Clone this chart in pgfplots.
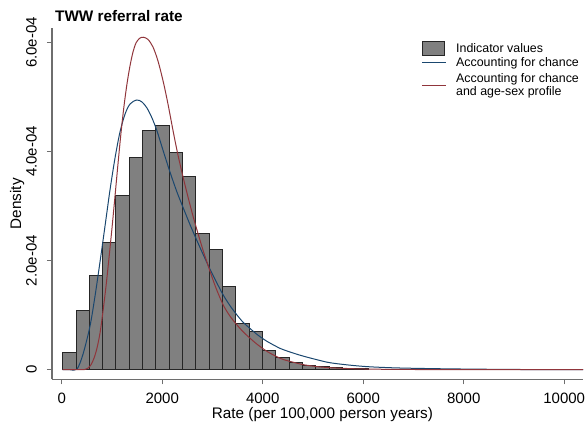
\documentclass[border=0pt]{standalone}
\usepackage{pgfplots}
\pgfplotsset{compat=1.18}
\usepackage{fontspec}
\setmainfont{Liberation Sans}
\definecolor{histgray}{RGB}{128,128,128}
\definecolor{navyc}{RGB}{26,71,111}
\definecolor{maroonc}{RGB}{144,53,59}
\definecolor{axgray}{RGB}{110,110,110}
\begin{document}
\begin{tikzpicture}
\useasboundingbox (0,0) rectangle (587pt,425pt);
\begin{axis}[
  at={(52pt,45.7pt)}, anchor=south west,
  scale only axis, width=531.3pt, height=351pt,
  xmin=-193, xmax=10380, ymin=-1.76e-5, ymax=6.26e-4,
  axis x line*=bottom, axis y line*=left,
  axis line style={-, axgray, line width=1pt},
  tick align=outside, major tick length=5pt,
  tick style={axgray, line width=1pt},
  xtick={0,2000,4000,6000,8000,10000},
  xticklabels={0,2000,4000,6000,8000,10000},
  ytick={0,2e-4,4e-4,6e-4},
  yticklabels={0,2.0e-04,4.0e-04,6.0e-04},
  scaled x ticks=false, scaled y ticks=false,
  ticklabel style={font=\fontsize{15}{17}\selectfont},
  xticklabel style={anchor=north, inner sep=0pt, yshift=-9pt},
  yticklabel style={xshift=-10pt, rotate=90, anchor=south, inner sep=0pt},
  xlabel={Rate (per 100,000 person years)},
  xlabel style={font=\fontsize{15.3}{17}\selectfont, at={(axis description cs:0.509,-0.111)}, anchor=base, inner sep=0pt},
  ylabel={Density},
  ylabel style={font=\fontsize{15.3}{17}\selectfont, at={(axis description cs:-0.0583,0.5)}, anchor=base, rotate=0, inner sep=0pt},
  legend style={at={(axis description cs:0.6958,0.9604)}, anchor=north west, draw=none, fill=none,
    font=\fontsize{12.4}{12.7}\selectfont, inner sep=0pt, row sep=2.5pt,
    nodes={inner sep=0pt, text depth={}, align=left},
    /tikz/every odd column/.append style={column sep=10pt}},
  legend cell align=left,
  clip=false,
]
\addplot[ybar interval, fill=histgray, draw=black!85, line width=1pt,
  legend image code/.code={\draw[overlay, fill=histgray, draw=black!85, line width=1pt] (0pt,-7.35pt) rectangle (21.7pt,7.35pt); \path[draw=none, fill=none] (0pt,-6.1pt) rectangle (23.3pt,6.1pt);}]
coordinates {
(20,3.08e-5) (285,1.079e-4) (550,1.734e-4) (815,2.340e-4) (1080,3.19e-4)
(1345,3.887e-4) (1610,4.395e-4) (1875,4.474e-4) (2140,3.986e-4) (2405,3.538e-4)
(2670,2.499e-4) (2935,2.198e-4) (3200,1.527e-4) (3465,8.40e-5) (3730,6.94e-5)
(3995,3.45e-5) (4260,2.24e-5) (4525,1.28e-5) (4790,7.0e-6) (5055,5.1e-6)
(5320,3.3e-6) (5585,2.8e-6) (5850,1.8e-6) (6115,0)
};
\addlegendentry{Indicator values}
\addplot[navyc, line width=1pt, smooth, tension=0.5,
  legend image code/.code={\draw[navyc, line width=1pt] (0pt,0pt) -- (23.3pt,0pt); \path[draw=none, fill=none] (0pt,-8.2pt) rectangle (23.3pt,0pt);}]
coordinates {
(20,0) (165,0) (304,1e-6) (424,2.84e-5) (563,7.98e-5) (663,1.349e-4) (762,1.973e-4)
(862,2.633e-4) (961,3.294e-4) (1061,3.881e-4) (1160,4.358e-4) (1261,4.688e-4)
(1360,4.872e-4) (1493,4.945e-4) (1598,4.909e-4) (1697,4.798e-4) (1797,4.615e-4)
(1897,4.376e-4) (2015,4.028e-4) (2155,3.624e-4) (2294,3.257e-4) (2420,2.964e-4)
(2553,2.661e-4) (2687,2.376e-4) (2812,2.119e-4) (2951,1.844e-4) (3090,1.587e-4)
(3216,1.367e-4) (3349,1.174e-4) (3483,1.009e-4) (3608,8.72e-5) (3747,7.56e-5)
(3906,6.33e-5) (4080,5.23e-5) (4279,4.22e-5) (4410,3.67e-5) (4742,2.66e-5)
(5075,1.84e-5) (5339,1.28e-5) (5737,8.3e-6) (6135,5.3e-6) (6732,3.1e-6)
(7727,1.5e-6) (9055,4e-7) (10374,0)
};
\addlegendentry{Accounting for chance}
\addplot[maroonc, line width=1pt, smooth, tension=0.5,
  legend image code/.code={\draw[maroonc, line width=1pt] (0pt,0pt) -- (23.3pt,0pt); \path[draw=none, fill=none] (0pt,-7.8pt) rectangle (23.3pt,0pt);}]
coordinates {
(20,0) (300,0) (464,4e-7) (523,2.8e-6) (583,9.2e-6) (643,2.11e-5) (702,3.95e-5)
(762,6.70e-5) (822,1.073e-4) (882,1.532e-4) (941,2.046e-4) (1001,2.597e-4)
(1061,3.184e-4) (1120,3.771e-4) (1180,4.340e-4) (1240,4.835e-4) (1299,5.239e-4)
(1359,5.569e-4) (1419,5.826e-4) (1479,5.991e-4) (1548,6.074e-4) (1624,6.096e-4)
(1717,6.056e-4) (1816,5.918e-4) (1916,5.661e-4) (2022,5.276e-4) (2115,4.872e-4)
(2221,4.358e-4) (2314,3.936e-4) (2420,3.514e-4) (2519,3.147e-4) (2613,2.817e-4)
(2687,2.578e-4) (2812,2.193e-4) (2951,1.807e-4) (3071,1.496e-4) (3216,1.184e-4)
(3349,9.82e-5) (3483,8.26e-5) (3608,6.97e-5) (3747,5.78e-5) (3886,4.68e-5)
(4080,3.39e-5) (4279,2.39e-5) (4410,1.87e-5) (4603,1.38e-5) (4808,9.2e-6)
(5061,5.9e-6) (5339,3.7e-6) (5737,2.0e-6) (6135,1.1e-6) (6732,5e-7)
(7727,2e-7) (10374,0)
};
\addlegendentry{Accounting for chance\\and age-sex profile}
\end{axis}
\node[anchor=base west, font=\bfseries\fontsize{15.3}{17}\selectfont, inner sep=0pt] at (55pt,403.3pt) {TWW referral rate};
\end{tikzpicture}
\end{document}
